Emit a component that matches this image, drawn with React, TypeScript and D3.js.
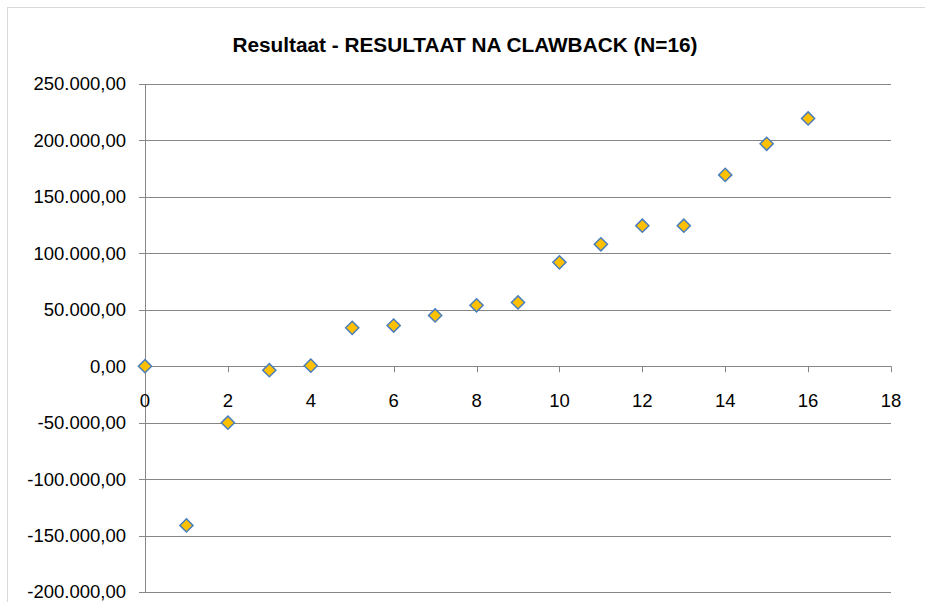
import { useMemo } from "react";
import * as d3 from "d3";

// Scatter points: index (x) and result after clawback (y)
const xValues = [0, 1, 2, 3, 4, 5, 6, 7, 8, 9, 10, 11, 12, 13, 14, 15, 16];
const yValues = [
  0, -141000, -50000, -3500, 500, 34000, 36000, 45000, 54000, 56500, 92000,
  108000, 124500, 124500, 169500, 197000, 219500,
];
const yTicks = [250000, 200000, 150000, 100000, 50000, 0, -50000, -100000, -150000, -200000];
const xTicks = [0, 2, 4, 6, 8, 10, 12, 14, 16, 18];
const title = "Resultaat - RESULTAAT NA CLAWBACK (N=16)";

const fmt = (v: number) => {
  // Dutch number format: 250.000,00
  const s = d3.format(",.2f")(Math.abs(v)).replace(/,/g, "#").replace(".", ",").replace(/#/g, ".");
  return (v < 0 ? "-" : "") + s;
};

const App = () => {
  const width = 925;
  const height = 602;
  const plot = { left: 145, right: 891, top: 84, bottom: 592 };
  const font = "Liberation Sans, Arial, sans-serif";

  const xScale = useMemo(
    () => d3.scaleLinear().domain([0, 18]).range([plot.left, plot.right]),
    []
  );
  const yScale = useMemo(
    () => d3.scaleLinear().domain([-200000, 250000]).range([plot.bottom, plot.top]),
    []
  );

  const diamond = d3.symbol().type(d3.symbolDiamond2).size(110)();
  const y0 = yScale(0);

  return (
    <svg
      width={width}
      height={height}
      style={{ position: "absolute", left: 0, top: 0, background: "#fff" }}
    >
      <rect x={7.5} y={7.5} width={940} height={620} fill="#fff" stroke="#d9d9d9" />
      <text
        x={465}
        y={52}
        textAnchor="middle"
        fontFamily={font}
        fontWeight="bold"
        fontSize={20}
        fill="#000"
        textLength={465}
        lengthAdjust="spacingAndGlyphs"
      >
        {title}
      </text>

      {/* gridlines */}
      {yTicks.map((t) => (
        <g key={t}>
          <line
            x1={plot.left - 6}
            x2={plot.right}
            y1={Math.round(yScale(t)) + 0.5}
            y2={Math.round(yScale(t)) + 0.5}
            stroke="#868686"
            strokeWidth={1}
          />
          <text
            x={126}
            y={yScale(t)}
            dy="0.35em"
            textAnchor="end"
            fontFamily={font}
            fontSize={18.5}
            fill="#000"
          >
            {fmt(t)}
          </text>
        </g>
      ))}

      {/* y axis */}
      <line
        x1={plot.left + 0.5}
        x2={plot.left + 0.5}
        y1={plot.top}
        y2={plot.bottom}
        stroke="#868686"
      />

      {/* x axis ticks and labels */}
      {xTicks.map((t) => (
        <g key={t}>
          <line
            x1={Math.round(xScale(t)) + 0.5}
            x2={Math.round(xScale(t)) + 0.5}
            y1={y0}
            y2={y0 + 6}
            stroke="#868686"
          />
          <text
            x={xScale(t)}
            y={407}
            textAnchor="middle"
            fontFamily={font}
            fontSize={18.5}
            fill="#000"
          >
            {t}
          </text>
        </g>
      ))}

      {/* points */}
      {xValues.map((x, i) => (
        <path
          key={i}
          d={diamond ?? undefined}
          transform={`translate(${xScale(x)},${yScale(yValues[i])})`}
          fill="#FFC000"
          stroke="#4A7EBB"
          strokeWidth={1.5}
        />
      ))}
    </svg>
  );
};

export default App;
